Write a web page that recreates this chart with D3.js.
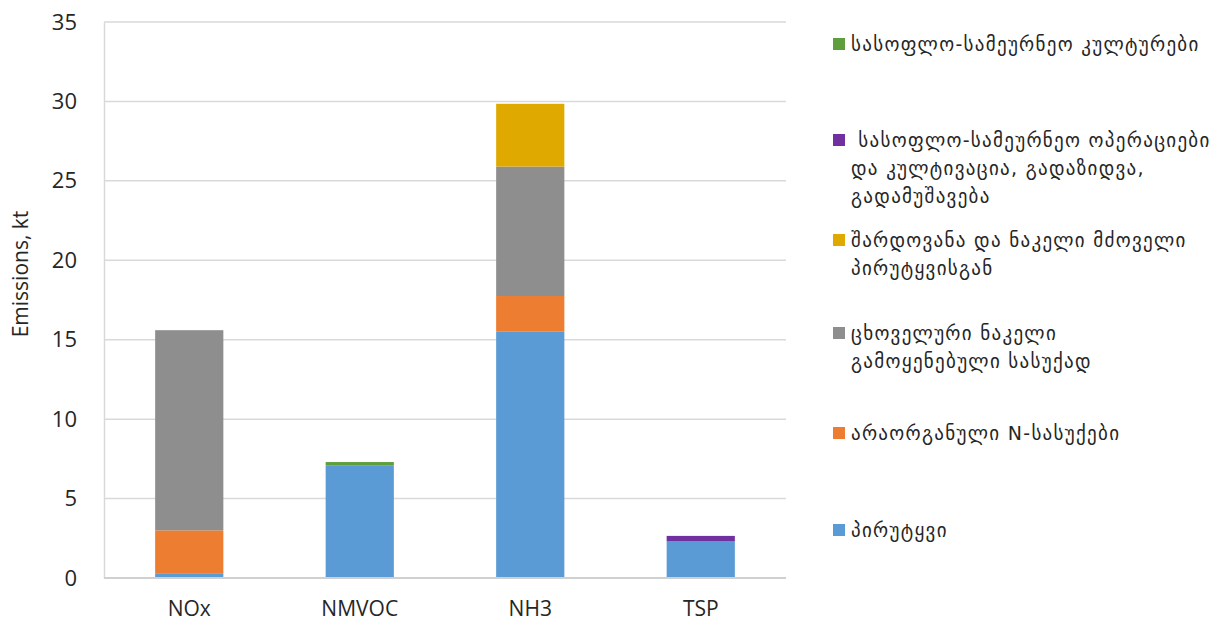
<!DOCTYPE html>
<html>
<head>
<meta charset="utf-8">
<script src="https://cdn.jsdelivr.net/npm/d3@7"></script>
<style>
  body { margin: 0; background: #fff; }
  text { font-family: "Open Sans", "DejaVu Sans", sans-serif; fill: #262626; }
  .legend text { font-family: "DejaVu Sans", sans-serif; font-size: 19px; letter-spacing: 1.3px; white-space: pre; fill: #262626; }
</style>
</head>
<body>
<div id="chart"></div>
<script>
/* stacked emissions chart */

const categories = ["NOx", "NMVOC", "NH3", "TSP"];

// series, bottom to top
const livestock  = [0.3, 7.1, 15.5, 2.3];   // პირუტყვი
const fertilizer = [2.7, 0, 2.25, 0];       // არაორგანული N-სასუქები
const manure     = [12.6, 0, 8.15, 0];      // ცხოველური ნაკელი
const grazing    = [0, 0, 3.95, 0];         // შარდოვანა და ნაკელი
const operations = [0, 0, 0, 0.35];         // ოპერაციები
const crops      = [0, 0.2, 0, 0];          // კულტურები

const seriesNames = ["livestock", "fertilizer", "manure", "grazing", "operations", "crops"];
const seriesValues = [livestock, fertilizer, manure, grazing, operations, crops];

const yTicks = [0, 5, 10, 15, 20, 25, 30, 35];

const colors = {
  livestock: "#5b9bd5",
  fertilizer: "#ed7d31",
  manure: "#8e8e8e",
  grazing: "#e0a900",
  operations: "#7030a0",
  crops: "#5f9e3c"
};

// legend, top to bottom, lines already split as in original
const legendItems = [
  {key: "crops", lines: ["სასოფლო-სამეურნეო კულტურები"], y: 45},
  {key: "operations", lines: [" სასოფლო-სამეურნეო ოპერაციები", "და კულტივაცია, გადაზიდვა,", "გადამუშავება"], y: 141},
  {key: "grazing", lines: ["შარდოვანა და ნაკელი მძოველი", "პირუტყვისგან"], y: 241},
  {key: "manure", lines: ["ცხოველური ნაკელი", "გამოყენებული სასუქად"], y: 334},
  {key: "fertilizer", lines: ["არაორგანული N-სასუქები"], y: 434},
  {key: "livestock", lines: ["პირუტყვი"], y: 531}
];

const width = 1220,
    height = 625,
    margin = ({top: 22, right: 434, bottom: 47, left: 104});

const svg = d3.select("#chart")
    .append("svg")
    .attr("width", width)
    .attr("height", height);

const data = categories.map((c, i) => {
  let row = {category: c};
  seriesNames.forEach((s, j) => row[s] = seriesValues[j][i]);
  return row;
});

const stack = d3.stack().keys(seriesNames);
const layers = stack(data);

let x = d3.scaleBand()
    .domain(categories)
    .range([margin.left, width - margin.right])
    .paddingInner(0.6)
    .paddingOuter(0.3);

let y = d3.scaleLinear()
    .domain([0, 35])
    .range([height - margin.bottom, margin.top]);

// gridlines
svg.append("g")
  .selectAll("line")
  .data(yTicks.slice(1))
  .join("line")
    .attr("x1", margin.left)
    .attr("x2", width - margin.right)
    .attr("y1", d => y(d))
    .attr("y2", d => y(d))
    .attr("stroke", "#d9d9d9")
    .attr("stroke-width", 1.5);

// left axis line + labels
const yAxis = svg.append("g")
  .attr("transform", `translate(${margin.left},0)`)
  .call(d3.axisLeft(y).tickValues(yTicks).tickSize(0).tickPadding(27));
yAxis.select(".domain").attr("stroke", "#d9d9d9").attr("stroke-width", 1.5);
yAxis.selectAll("text").style("font-size", "22px").attr("fill", "#262626");

// bars
svg.append("g")
  .selectAll("g")
  .data(layers)
  .join("g")
    .attr("fill", d => colors[d.key])
  .selectAll("rect")
  .data(d => d)
  .join("rect")
    .attr("x", d => x(d.data.category))
    .attr("y", d => y(d[1]))
    .attr("height", d => y(d[0]) - y(d[1]))
    .attr("width", x.bandwidth());

// bottom axis
const xAxis = svg.append("g")
  .attr("transform", `translate(0,${height - margin.bottom})`)
  .call(d3.axisBottom(x).tickSize(0).tickPadding(23).tickSizeOuter(0));
xAxis.select(".domain")
  .attr("d", `M${margin.left},0H${width - margin.right}`)
  .attr("stroke", "#d0d0d0").attr("stroke-width", 2);
xAxis.selectAll("text").style("font-size", "21px").attr("fill", "#262626");

// y label
svg.append("text")
  .attr("text-anchor", "middle")
  .attr("transform", `translate(28,274) rotate(-90)`)
  .style("font-size", "21px")
  .text("Emissions, kt");

// legend
const legend = svg.append("g").attr("class", "legend");
const lg = legend.selectAll("g")
  .data(legendItems)
  .join("g")
    .attr("transform", d => `translate(833,${d.y})`);

lg.append("rect")
  .attr("x", 0)
  .attr("y", -7)
  .attr("width", 12)
  .attr("height", 12)
  .attr("fill", d => colors[d.key]);

lg.append("text")
  .attr("x", 18)
  .attr("y", 6)
  .selectAll("tspan")
  .data(d => d.lines)
  .join("tspan")
    .attr("x", 18)
    .attr("dy", (d, i) => i === 0 ? 0 : 28)
    .text(d => d);
</script>
</body>
</html>
